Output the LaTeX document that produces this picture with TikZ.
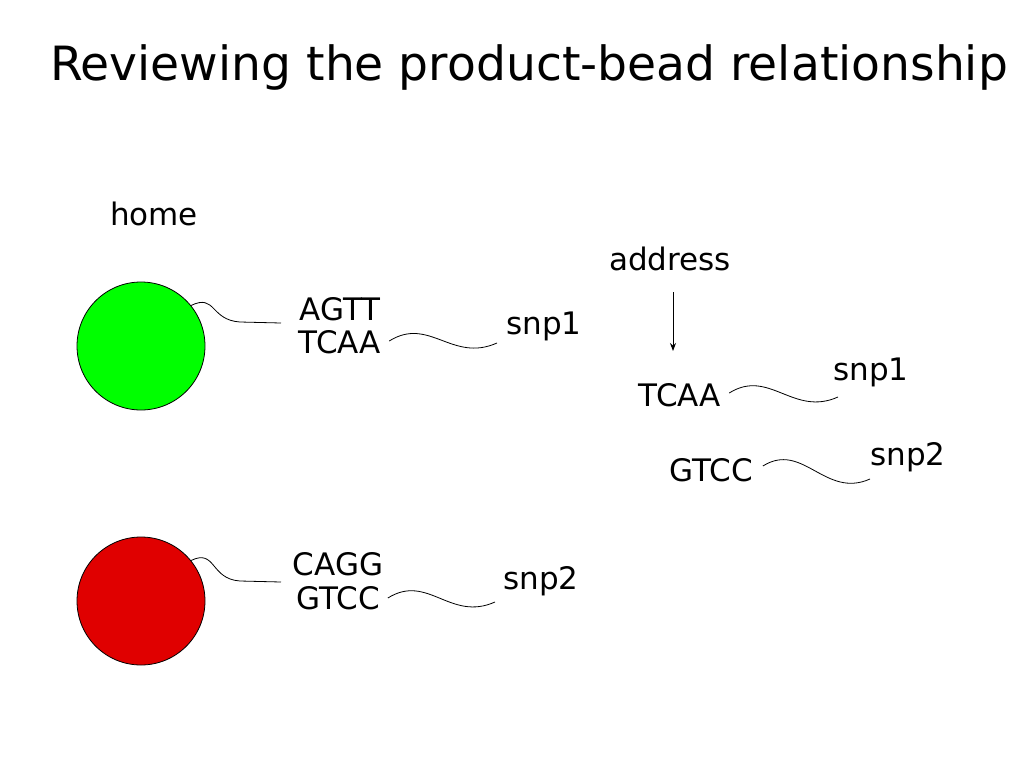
\documentclass[tikz,border=0pt]{standalone}
\usepackage{fontspec}
\usetikzlibrary{arrows.meta}
\setmainfont{DejaVu Sans}
\begin{document}
\begin{tikzpicture}[x=1pt,y=-1pt,
  lbl/.style={inner sep=0pt,font=\fontsize{31}{33}\selectfont},
  bead/.style={circle,draw=black,line width=0.8pt,minimum size=128pt,inner sep=0pt},
  wire/.style={line width=0.8pt}]
\useasboundingbox[fill=white] (0,0) rectangle (1024,768);
\node[inner sep=0pt,font=\fontsize{47.2}{50}\selectfont] (title) at (529,67) {Reviewing the product-bead relationship};
\node[lbl] (home) at (154,214) {home};
% green bead
\node[bead,fill={rgb,255:red,0;green,255;blue,0}] (g) at (141,346) {};
\node[lbl] (agtt) at (340,309) {AGTT};
\node[lbl] (tcaa) at (340,342) {TCAA};
\node[lbl] (s1a) at (544,326) {snp1};
\draw[wire] (g.39) .. controls +(25,-12) and +(-30,-2) .. (240,322) coordinate (gw) -- (281,323) coordinate (gwe);
\draw[wire] (tcaa.east)+(8,-1) coordinate (t1s) .. controls +(40,-25) and +(-45,20) .. (497,343) coordinate (t1e);
% red bead
\node[bead,fill={rgb,255:red,224;green,0;blue,0}] (r) at (141,601) {};
\node[lbl] (cagg) at (338,564) {CAGG};
\node[lbl] (gtcc) at (338,598) {GTCC};
\node[lbl] (s2a) at (541,581) {snp2};
\draw[wire] (r.39) .. controls +(25,-12) and +(-30,-2) .. (240,581) coordinate (rw) -- (281,582) coordinate (rwe);
\draw[wire] (gtcc.east)+(8,0) coordinate (g2s) .. controls +(40,-25) and +(-45,20) .. (495,602) coordinate (g2e);
% right side
\node[lbl] (addr) at (670,259) {address};
\node[lbl] (tcaa2) at (680,395) {TCAA};
\node[lbl] (s1b) at (871,372) {snp1};
\node[lbl] (gtcc2) at (711,470) {GTCC};
\node[lbl] (s2b) at (908,457) {snp2};
\draw[line width=0.8pt,-{Stealth[length=8pt,width=6pt]}] (673,292) coordinate (arrs) -- (673,351) coordinate (arre);
\draw[wire] (tcaa2.east)+(8,-2) coordinate (t2s) .. controls +(40,-25) and +(-45,20) .. (838,397) coordinate (t2e);
\draw[wire] (gtcc2.east)+(10,-4) coordinate (g3s) .. controls +(40,-25) and +(-45,20) .. (870,479) coordinate (g3e);
\end{tikzpicture}
\end{document}
